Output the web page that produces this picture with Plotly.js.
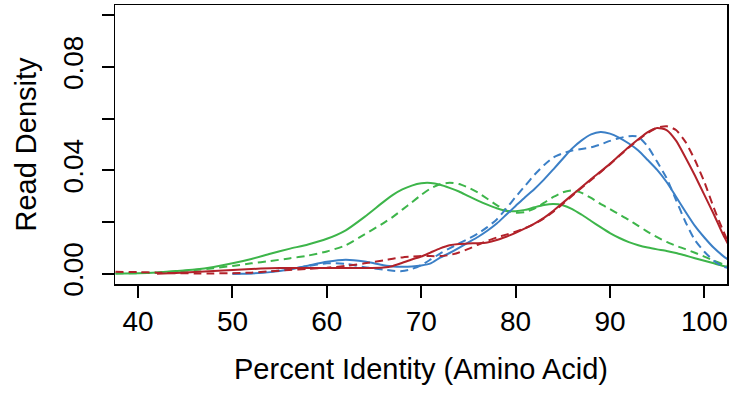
<!DOCTYPE html>
<html>
<head>
<meta charset="utf-8">
<script src="https://cdn.plot.ly/plotly-3.0.1.min.js"></script>
<style>html,body{margin:0;padding:0;background:#fff;}#chart{width:732px;height:394px;}</style>
</head>
<body>
<div id="chart"></div>
<script>
// Percent identity grid (x values)
const percentIdentity = [37.6, 40, 42, 44, 46, 48, 50, 52, 54, 56, 58, 60, 62, 64, 66, 67, 68, 69, 70, 71, 72, 73, 74, 75, 76, 77, 78, 79, 80, 81, 82, 83, 84, 85, 86, 87, 88, 89, 90, 91, 92, 93, 94, 95, 96, 97, 98, 99, 100, 101, 102, 102.5];

// Read density series
const greenSolid = [0.0001, 0.0002, 0.0005, 0.0010, 0.0016, 0.0026, 0.0040, 0.0057, 0.0077, 0.0096, 0.0113, 0.0135, 0.0168, 0.0220, 0.0278, 0.0305, 0.0326, 0.0341, 0.0350, 0.0351, 0.0344, 0.0332, 0.0318, 0.0300, 0.0283, 0.0267, 0.0253, 0.0243, 0.0242, 0.0247, 0.0257, 0.0266, 0.0270, 0.0265, 0.0250, 0.0228, 0.0204, 0.0180, 0.0157, 0.0138, 0.0122, 0.0110, 0.0101, 0.0094, 0.0088, 0.0080, 0.0070, 0.0060, 0.0050, 0.0040, 0.0030, 0.0026];

const greenDashed = [0.0001, 0.0002, 0.0004, 0.0008, 0.0014, 0.0021, 0.0030, 0.0040, 0.0049, 0.0059, 0.0070, 0.0086, 0.0110, 0.0152, 0.0196, 0.0220, 0.0248, 0.0276, 0.0305, 0.0330, 0.0346, 0.0352, 0.0347, 0.0333, 0.0314, 0.0290, 0.0265, 0.0245, 0.0236, 0.0238, 0.0252, 0.0274, 0.0297, 0.0315, 0.0322, 0.0313, 0.0293, 0.0270, 0.0250, 0.0229, 0.0208, 0.0185, 0.0162, 0.0141, 0.0123, 0.0108, 0.0095, 0.0081, 0.0066, 0.0050, 0.0036, 0.0031];

const blueSolid = [null, null, null, null, null, null, 0.0000, 0.0001, 0.0006, 0.0016, 0.0031, 0.0046, 0.0054, 0.0047, 0.0033, 0.0028, 0.0027, 0.0028, 0.0032, 0.0040, 0.0062, 0.0080, 0.0100, 0.0121, 0.0142, 0.0166, 0.0194, 0.0228, 0.0262, 0.0296, 0.0328, 0.0364, 0.0404, 0.0445, 0.0485, 0.0516, 0.0539, 0.0548, 0.0542, 0.0526, 0.0504, 0.0477, 0.0440, 0.0402, 0.0355, 0.0298, 0.0240, 0.0185, 0.0140, 0.0100, 0.0068, 0.0055];

const blueDashed = [null, null, null, null, null, null, 0.0000, 0.0002, 0.0008, 0.0017, 0.0030, 0.0040, 0.0038, 0.0025, 0.0016, 0.0011, 0.0010, 0.0018, 0.0033, 0.0055, 0.0078, 0.0098, 0.0117, 0.0135, 0.0155, 0.0180, 0.0210, 0.0252, 0.0297, 0.0340, 0.0383, 0.0420, 0.0450, 0.0466, 0.0477, 0.0483, 0.0489, 0.0500, 0.0514, 0.0525, 0.0532, 0.0530, 0.0492, 0.0433, 0.0370, 0.0285, 0.0200, 0.0130, 0.0085, 0.0050, 0.0027, 0.0022];

const redSolid = [null, null, 0.0000, 0.0003, 0.0006, 0.0010, 0.0014, 0.0018, 0.0021, 0.0022, 0.0022, 0.0022, 0.0022, 0.0022, 0.0024, 0.0030, 0.0042, 0.0055, 0.0066, 0.0082, 0.0098, 0.0110, 0.0115, 0.0117, 0.0118, 0.0121, 0.0130, 0.0143, 0.0158, 0.0175, 0.0194, 0.0216, 0.0243, 0.0274, 0.0305, 0.0335, 0.0366, 0.0395, 0.0425, 0.0458, 0.0490, 0.0520, 0.0548, 0.0564, 0.0556, 0.0515, 0.0450, 0.0380, 0.0305, 0.0230, 0.0150, 0.0115];

const redDashed = [0.0007, 0.0006, 0.0004, 0.0002, 0.0001, 0.0001, 0.0002, 0.0004, 0.0009, 0.0014, 0.0019, 0.0023, 0.0030, 0.0040, 0.0051, 0.0058, 0.0063, 0.0066, 0.0068, 0.0068, 0.0068, 0.0072, 0.0082, 0.0096, 0.0112, 0.0127, 0.0140, 0.0151, 0.0162, 0.0176, 0.0193, 0.0214, 0.0240, 0.0270, 0.0302, 0.0333, 0.0363, 0.0393, 0.0424, 0.0456, 0.0488, 0.0518, 0.0545, 0.0565, 0.0571, 0.0556, 0.0510, 0.0440, 0.0355, 0.0255, 0.0165, 0.0125];

// Tick labels
const xTickVals = [40, 50, 60, 70, 80, 90, 100];
const xTickText = ['40', '50', '60', '70', '80', '90', '100'];
const yTickVals = [0, 0.02, 0.04, 0.06, 0.08, 0.10];
const yTickText = ['0.00', '', '0.04', '', '0.08', ''];

const GREEN = '#3db54a', BLUE = '#3b7fc6', RED = '#b2222a';
const DASH = '8px,5px';

function series(y, color, dashed) {
  return {
    x: percentIdentity, y: y, type: 'scatter', mode: 'lines',
    line: {color: color, width: 2, shape: 'spline', smoothing: 0.6, dash: dashed ? DASH : 'solid'},
    connectgaps: false, hoverinfo: 'skip', showlegend: false
  };
}

const data = [
  series(greenSolid, GREEN, false),
  series(greenDashed, GREEN, true),
  series(blueSolid, BLUE, false),
  series(blueDashed, BLUE, true),
  series(redSolid, RED, false),
  series(redDashed, RED, true)
];

const FONT = 'Liberation Sans, Arial, Helvetica, sans-serif';

const layout = {
  width: 732, height: 394,
  margin: {l: 115, r: 5, t: 5, b: 110},
  paper_bgcolor: '#fff', plot_bgcolor: '#fff',
  font: {family: FONT, size: 28, color: '#000'},
  showlegend: false,
  xaxis: {
    range: [37.55, 102.4], showgrid: false, zeroline: false,
    tickmode: 'array', tickvals: xTickVals, ticktext: xTickText,
    ticks: 'outside', ticklen: 12, tickwidth: 2, tickcolor: '#000',
    showline: true, mirror: true, linecolor: '#000', linewidth: 1.5,
    tickfont: {family: FONT, size: 28, color: '#000'},
    title: {text: 'Percent Identity (Amino Acid)', font: {family: FONT, size: 29, color: '#000'}, standoff: 22}
  },
  yaxis: {
    range: [-0.004, 0.104], showgrid: false, zeroline: false,
    tickmode: 'array', tickvals: yTickVals, ticktext: yTickText,
    ticks: 'outside', ticklen: 12, tickwidth: 2, tickcolor: '#000',
    showline: true, mirror: true, linecolor: '#000', linewidth: 1.5,
    tickangle: -90, ticklabelstandoff: 7,
    tickfont: {family: FONT, size: 28, color: '#000'},
    title: {text: 'Read Density', font: {family: FONT, size: 29, color: '#000'}, standoff: 13}
  }
};

Plotly.newPlot('chart', data, layout, {staticPlot: true, displayModeBar: false});
</script>
</body>
</html>
